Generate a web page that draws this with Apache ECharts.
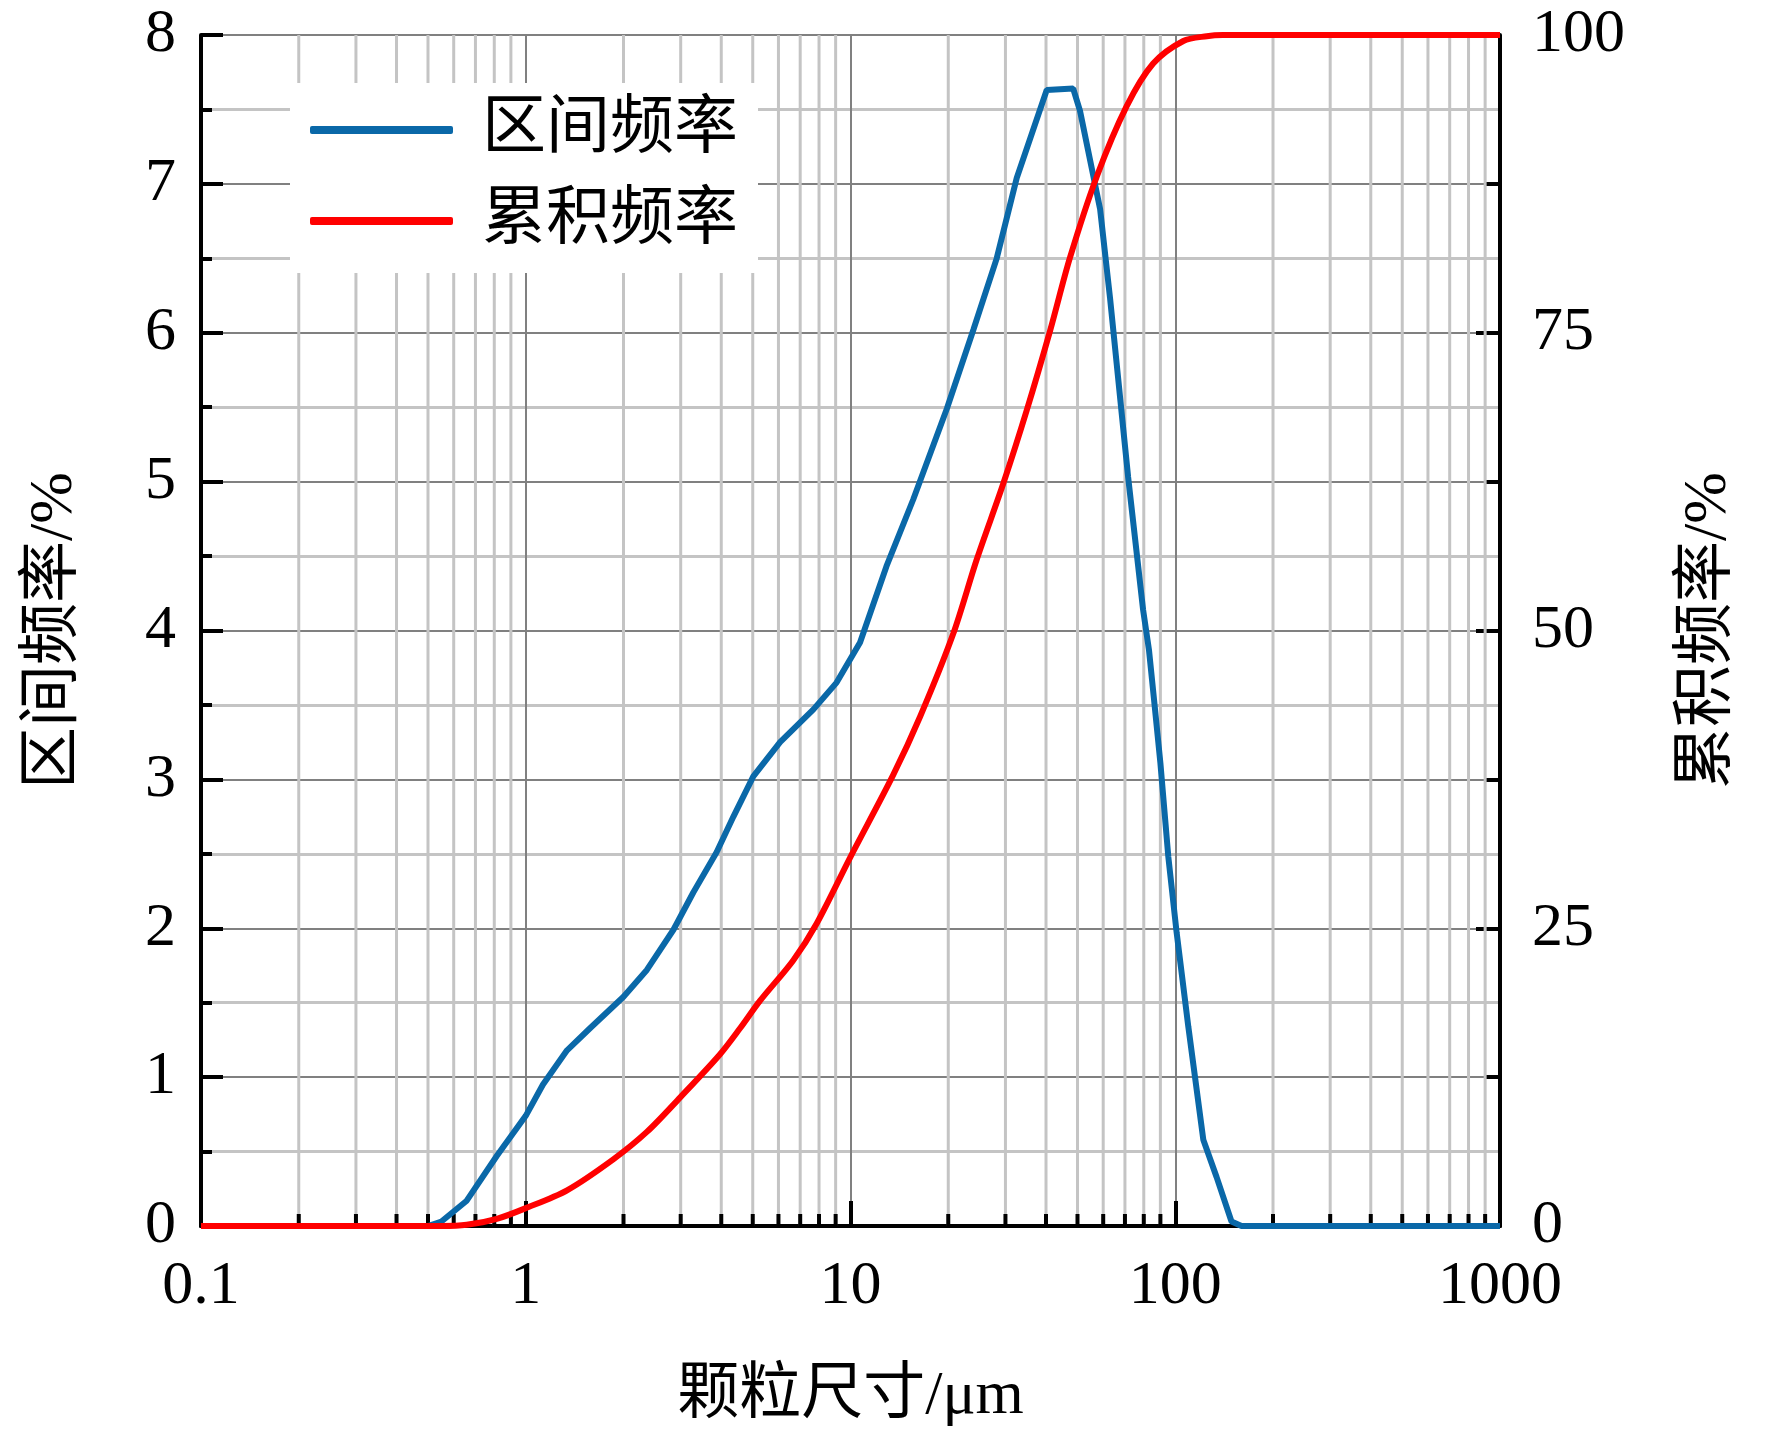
<!DOCTYPE html>
<html>
<head>
<meta charset="utf-8">
<title>颗粒尺寸分布</title>
<script src="https://cdn.jsdelivr.net/npm/echarts@6/dist/echarts.min.js"></script>
<style>
html, body { margin: 0; padding: 0; background: #fff; }
#main { width: 1772px; height: 1438px; }
</style>
</head>
<body>
<div id="main"></div>
<script>
// 区间频率 (left axis, %)
var blueSize = [0.1, 0.5, 0.55, 0.658, 0.814, 1.0, 1.13, 1.34, 1.58, 2.0, 2.36, 2.85, 3.28, 3.87, 4.36, 5.02, 6.07, 7.69, 9.06, 10.7, 12.9, 15.6, 19.8, 23.9, 28.2, 32.5, 40.2, 48.5, 50.9, 58.7, 63.0, 71.6, 79.6, 83, 86, 90, 95.2, 101, 109.7, 122, 134, 149, 160, 1000];
var blueFreq = [0, 0, 0.03, 0.17, 0.47, 0.74, 0.95, 1.18, 1.33, 1.54, 1.72, 1.99, 2.24, 2.51, 2.75, 3.02, 3.25, 3.47, 3.65, 3.92, 4.43, 4.88, 5.49, 6.02, 6.50, 7.04, 7.63, 7.64, 7.49, 6.83, 6.23, 5.03, 4.14, 3.87, 3.54, 3.11, 2.48, 1.97, 1.34, 0.58, 0.33, 0.03, 0, 0];

// 累积频率 (right axis, %)
var redSize = [0.1, 0.55, 0.658, 0.814, 1.0, 1.34, 1.86, 2.36, 2.99, 3.96, 4.57, 5.26, 6.66, 7.87, 10.0, 13.55, 16.4, 20.7, 24.5, 29.6, 34.9, 41.2, 47.4, 57.3, 70.8, 85.5, 105.9, 125, 140, 1000];
var redCum = [0, 0, 0.1, 0.6, 1.5, 3.0, 5.6, 7.9, 10.8, 14.4, 16.6, 18.9, 22.3, 25.4, 31.0, 37.9, 42.8, 49.7, 56.0, 62.4, 68.5, 75.2, 81.3, 88.1, 94.0, 97.6, 99.5, 99.9, 100, 100];

// log axis minor ticks (2..9 per decade)
var minorX = [0.2, 0.3, 0.4, 0.5, 0.6, 0.7, 0.8, 0.9,
              2, 3, 4, 5, 6, 7, 8, 9,
              20, 30, 40, 50, 60, 70, 80, 90,
              200, 300, 400, 500, 600, 700, 800, 900];

var seriesNames = ['区间频率', '累积频率'];

function zip(a, b) {
  var out = [];
  for (var i = 0; i < a.length; i++) out.push([a[i], b[i]]);
  return out;
}

var FONT = '"Liberation Serif", "Noto Sans CJK SC", serif';

var myChart = echarts.init(document.getElementById('main'));

var option = {
  backgroundColor: '#fff',
  animation: false,
  grid: { left: 201, right: 272, top: 35, bottom: 212 },
  legend: {
    data: seriesNames,
    orient: 'vertical',
    left: 290,
    top: 83,
    padding: [12, 20, 17, 20],
    backgroundColor: '#fff',
    itemGap: 21,
    itemWidth: 143,
    itemHeight: 8,
    icon: 'roundRect',
    textStyle: { fontFamily: FONT, fontSize: 64, color: '#000', lineHeight: 64, padding: [6, 0, 0, 24] }
  },
  xAxis: [{
    type: 'log',
    logBase: 10,
    min: 0.1,
    max: 1000,
    name: '颗粒尺寸/μm',
    nameLocation: 'middle',
    nameGap: 140,
    nameTextStyle: { fontFamily: FONT, fontSize: 62, color: '#000' },
    axisLine: { show: true, lineStyle: { color: '#000', width: 4 } },
    axisTick: { show: true, inside: true, length: 25, lineStyle: { color: '#000', width: 4 } },
    axisLabel: {
      fontFamily: FONT, fontSize: 62, color: '#000', margin: 30,
      formatter: function (v) { return String(v); }
    },
    splitLine: { show: true, lineStyle: { color: '#808080', width: 2 } },
    minorTick: { show: false },
    minorSplitLine: { show: false }
  }, {
    type: 'log',
    logBase: 10,
    min: 0.1,
    max: 1000,
    position: 'top',
    axisLine: { show: true, lineStyle: { color: '#000', width: 4 } },
    axisTick: { show: false },
    axisLabel: { show: false },
    splitLine: { show: false }
  }],
  yAxis: [{
    type: 'value',
    min: 0,
    max: 8,
    interval: 1,
    name: '区间频率/%',
    nameLocation: 'middle',
    nameGap: 115,
    nameRotate: 90,
    nameTextStyle: { fontFamily: FONT, fontSize: 62, color: '#000' },
    axisLine: { show: true, lineStyle: { color: '#000', width: 4 } },
    axisTick: { show: true, inside: true, length: 22, lineStyle: { color: '#000', width: 4 } },
    minorTick: { show: true, splitNumber: 2, length: 11, lineStyle: { color: '#000', width: 4 } },
    axisLabel: { fontFamily: FONT, fontSize: 62, color: '#000', margin: 25 },
    splitLine: { show: true, lineStyle: { color: '#808080', width: 2 } },
    minorSplitLine: { show: true, lineStyle: { color: '#c4c4c4', width: 3 } }
  }, {
    type: 'value',
    min: 0,
    max: 100,
    interval: 25,
    position: 'right',
    name: '累积频率/%',
    nameLocation: 'middle',
    nameGap: 178,
    nameRotate: 90,
    nameTextStyle: { fontFamily: FONT, fontSize: 62, color: '#000' },
    axisLine: { show: true, lineStyle: { color: '#000', width: 4 } },
    axisTick: { show: true, inside: true, length: 24, lineStyle: { color: '#000', width: 4 } },
    minorTick: { show: true, splitNumber: 2, length: 14, lineStyle: { color: '#000', width: 4 } },
    axisLabel: { fontFamily: FONT, fontSize: 62, color: '#000', margin: 32 },
    splitLine: { show: false },
    minorSplitLine: { show: false }
  }],
  series: [{
    // minor vertical grid lines + minor bottom ticks
    type: 'custom',
    xAxisIndex: 0,
    yAxisIndex: 0,
    silent: true,
    z: 1,
    data: minorX.map(function (v) { return [v, 0]; }),
    renderItem: function (params, api) {
      var p0 = api.coord([api.value(0), 0]);
      var p1 = api.coord([api.value(0), 8]);
      return {
        type: 'group',
        children: [{
          type: 'line',
          shape: { x1: p0[0], y1: p0[1], x2: p1[0], y2: p1[1] },
          style: { stroke: '#c4c4c4', lineWidth: 3 }
        }, {
          type: 'line',
          shape: { x1: p0[0], y1: p0[1], x2: p0[0], y2: p0[1] - 12 },
          style: { stroke: '#000', lineWidth: 4 }
        }]
      };
    }
  }, {
    name: seriesNames[0],
    type: 'line',
    xAxisIndex: 0,
    yAxisIndex: 0,
    symbol: 'none',
    showSymbol: false,
    z: 3,
    color: '#0a68a8',
    lineStyle: { color: '#0a68a8', width: 6 },
    data: zip(blueSize, blueFreq)
  }, {
    name: seriesNames[1],
    type: 'line',
    xAxisIndex: 0,
    yAxisIndex: 1,
    symbol: 'none',
    showSymbol: false,
    smooth: 0.3,
    z: 4,
    color: '#ff0000',
    lineStyle: { color: '#ff0000', width: 6 },
    data: zip(redSize, redCum)
  }]
};

myChart.setOption(option);
window.onresize = myChart.resize;
</script>
</body>
</html>
